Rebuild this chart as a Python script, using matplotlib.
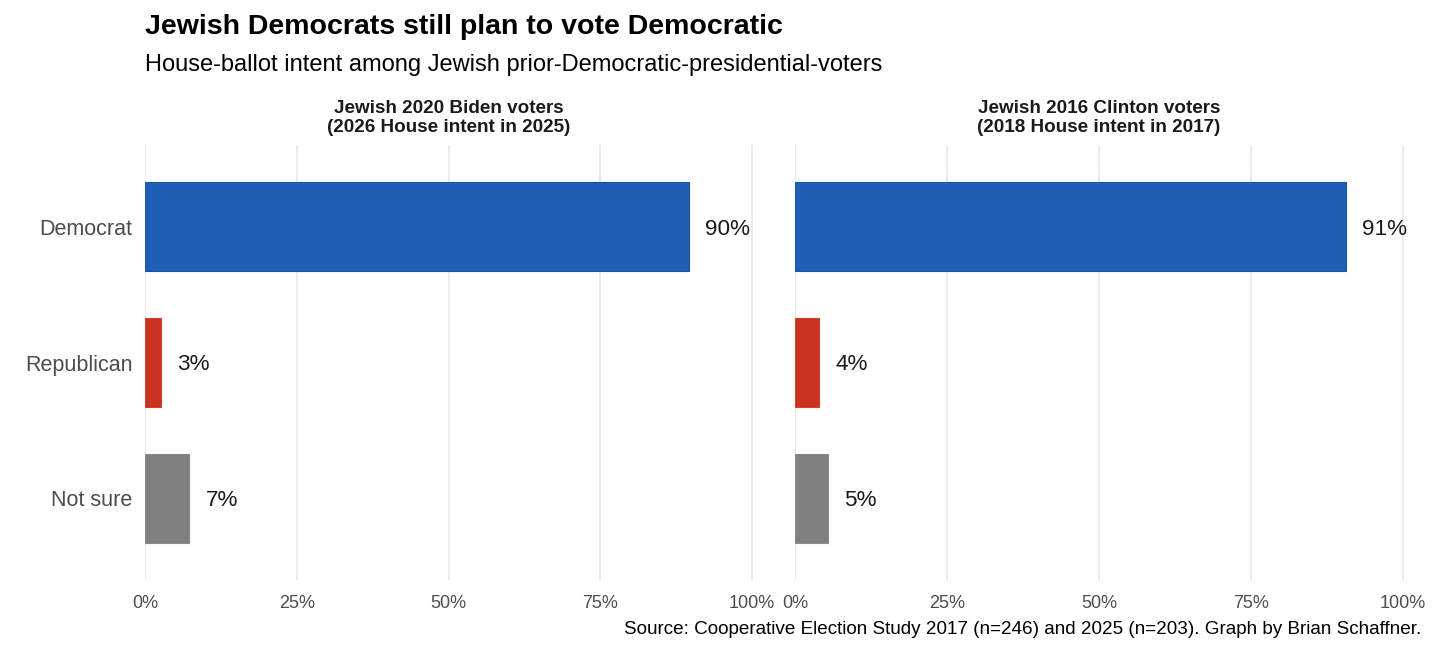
import matplotlib
matplotlib.use("Agg")
import matplotlib.pyplot as plt

plt.rcParams['font.family'] = ['Liberation Sans', 'DejaVu Sans']

categories = ["Democrat", "Republican", "Not sure"]
panel_titles = ["Jewish 2020 Biden voters\n(2026 House intent in 2025)",
                "Jewish 2016 Clinton voters\n(2018 House intent in 2017)"]
values_2025 = [89.6, 2.6, 7.3]
values_2017 = [90.6, 3.9, 5.4]
labels_2025 = ["90%", "3%", "7%"]
labels_2017 = ["91%", "4%", "5%"]
colors = ["#1F5FB6", "#C9331F", "#808080"]
edge_colors = ["#1A55A8", "#D0402C", "#8A8A8A"]
xticks = [0, 25, 50, 75, 100]
xtick_labels = ["0%", "25%", "50%", "75%", "100%"]

fig = plt.figure(figsize=(14.56, 6.56), dpi=100)
W, H = 1456, 656
top_px, bot_px = 145, 580
panels_px = [(145, 752), (795, 1403)]
xmax = 100
right_pad = 1.0

series = [(values_2025, labels_2025), (values_2017, labels_2017)]
for i, ((x0, x1), (vals, labs), title) in enumerate(zip(panels_px, series, panel_titles)):
    width_px = (x1 - x0) * (xmax + right_pad) / xmax
    ax = fig.add_axes([x0 / W, 1 - bot_px / H, width_px / W, (bot_px - top_px) / H])
    ypos = list(range(len(categories)))
    ax.barh(ypos, vals, height=0.65, color=colors, edgecolor=edge_colors, linewidth=0.8, zorder=3)
    for y, v, l in zip(ypos, vals, labs):
        ax.text(v + 2.7, y, l, va='center_baseline', ha='left', fontsize=16.2,
                color='#1a1a1a', zorder=4)
    ax.set_ylim(len(categories) - 0.4, -0.6)
    ax.set_xlim(0, xmax + right_pad)
    ax.set_xticks(xticks)
    ax.set_xticklabels(xtick_labels)
    ax.grid(axis='x', color='#EBEBEB', linewidth=1.4, zorder=0)
    ax.grid(axis='y', visible=False)
    ax.tick_params(axis='x', length=0, labelsize=13, labelcolor='#4D4D4D', pad=11)
    ax.set_yticks(ypos)
    if i == 0:
        ax.set_yticklabels(categories)
        ax.tick_params(axis='y', length=0, labelsize=15.5, labelcolor='#4D4D4D', pad=9)
    else:
        ax.set_yticklabels([])
        ax.tick_params(axis='y', length=0)
    for s in ax.spines.values():
        s.set_visible(False)
    cx = (x0 + x1) / 2
    fig.text(cx / W, 1 - 118 / H, title, ha='center', va='center', fontsize=13.6,
             fontweight='bold', color='#1a1a1a', linespacing=1.1)

fig.text(145 / W, 1 - 27 / H, "Jewish Democrats still plan to vote Democratic",
         ha='left', va='center', fontsize=20.5, fontweight='bold', color='black')
fig.text(145 / W, 1 - 65 / H, "House-ballot intent among Jewish prior-Democratic-presidential-voters",
         ha='left', va='center', fontsize=17, color='black')
fig.text(1421 / W, 1 - 629 / H,
         "Source: Cooperative Election Study 2017 (n=246) and 2025 (n=203). Graph by Brian Schaffner.",
         ha='right', va='center', fontsize=13.6, color='black')

fig.savefig("out.png", dpi=100, facecolor='white')
